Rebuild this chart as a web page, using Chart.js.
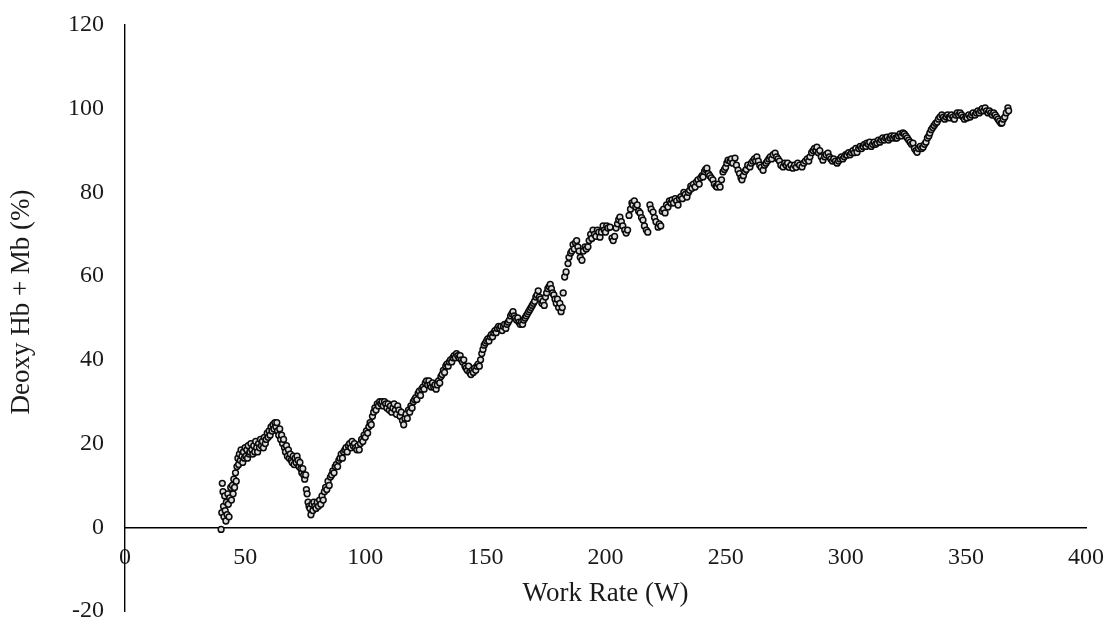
<!DOCTYPE html>
<html>
<head>
<meta charset="utf-8">
<script src="https://cdn.jsdelivr.net/npm/chart.js@4.4.1/dist/chart.umd.min.js"></script>
<style>
    html, body { margin: 0; padding: 0; background: #fff; }
    #wrap { width: 1114px; height: 631px; position: relative; }
</style>
</head>
<body>
<div id="wrap"><canvas id="chart"></canvas></div>
<script>
// 数据：功率 (W) 与 脱氧 Hb + Mb (%)
const workRate = [
    40.0,40.3,40.5,40.8,41.0,41.2,41.5,41.7,42.0,42.2,42.5,42.8,43.0,43.3,43.6,44.0,44.3,44.7,45.0,45.3,45.6,46.0,46.3,46.6,47.0,47.3,47.6,
    48.0,48.3,48.7,49.0,49.3,49.7,50.0,50.3,50.7,51.0,51.3,51.7,52.0,52.4,52.8,53.2,53.6,54.0,54.4,54.8,55.2,55.6,56.0,56.4,56.8,57.2,57.6,58.0,58.4,58.8,59.2,59.6,60.0,60.4,60.8,61.2,61.6,62.0,62.4,62.8,63.2,63.5,
    64.0,64.4,64.8,65.2,65.6,66.0,66.4,66.8,67.2,67.6,68.0,68.4,68.8,69.2,69.6,70.0,70.4,70.8,71.2,71.6,72.0,72.4,72.8,73.2,73.6,74.0,74.4,74.8,75.2,75.5,75.8,76.2,76.6,77.0,77.4,77.8,78.2,78.6,79.0,79.5,80.0,80.5,81.0,81.5,82.0,
    82.5,83.0,83.5,84.0,84.5,85.0,85.5,86.0,86.5,87.0,87.5,88.0,88.5,89.0,89.5,90.0,90.5,91.0,91.5,92.0,92.5,93.0,93.5,94.0,94.5,95.0,95.5,96.0,96.5,97.0,97.5,98.0,98.5,99.0,99.5,100.0,
    100.5,101.0,101.5,102.0,102.5,103.0,103.5,104.0,104.5,105.0,105.5,106.0,106.5,107.0,107.5,108.0,108.5,109.0,109.5,110.0,110.5,111.0,111.5,112.0,112.5,113.0,113.5,114.0,114.5,115.0,115.5,116.0,116.5,117.0,117.5,118.0,118.5,119.0,119.5,120.0,
    120.5,121.0,121.5,122.0,122.5,123.0,123.5,124.0,124.5,125.0,125.5,126.0,126.5,127.0,127.5,128.0,128.5,129.0,129.5,130.0,130.5,131.0,131.5,132.0,132.5,133.0,133.5,134.0,134.5,135.0,135.5,136.0,136.5,137.0,137.5,138.0,138.5,139.0,139.5,140.0,140.5,141.0,141.5,142.0,142.5,143.0,143.5,144.0,144.5,145.0,145.5,146.0,146.5,147.0,147.5,148.0,148.5,149.0,149.5,150.0,
    150.5,151.0,151.5,152.0,152.5,153.0,153.5,154.0,154.5,155.0,155.5,156.0,156.5,157.0,157.5,158.0,158.5,159.0,159.5,160.0,160.5,161.0,161.5,162.0,162.5,163.0,163.5,164.0,164.5,165.0,165.5,166.0,166.5,167.0,167.5,168.0,168.5,169.0,169.5,170.0,170.5,171.0,171.5,172.0,172.5,173.0,173.5,174.0,174.5,175.0,175.5,176.0,176.5,177.0,177.5,178.0,178.5,179.0,179.5,180.0,180.5,181.0,181.5,182.0,
    182.4,183.0,183.6,184.4,184.8,185.5,186.0,186.5,187.0,187.5,188.0,188.5,189.0,189.5,190.2,190.8,191.5,192.0,192.7,193.2,193.8,194.3,194.8,195.4,196.0,196.6,197.2,197.7,198.3,199.0,199.5,200.0,
    200.5,201.0,201.9,202.7,203.2,203.8,204.4,205.0,205.5,206.0,206.6,207.2,208.0,208.6,209.2,209.8,210.4,211.0,211.4,212.0,212.6,213.2,213.8,214.4,215.0,215.6,216.2,217.0,217.6,218.5,219.0,219.8,220.4,221.0,221.9,222.4,223.0,223.6,224.2,224.8,225.4,226.0,226.6,227.2,227.7,228.3,229.0,229.6,230.2,230.8,231.4,232.0,232.6,233.2,233.9,234.5,235.0,
    235.5,236.0,236.6,237.3,237.9,238.5,239.0,239.6,240.2,240.6,241.2,241.7,242.2,242.8,243.4,244.0,244.7,245.3,246.0,246.4,247.0,247.7,248.3,248.9,249.5,250.0,250.5,251.0,251.8,252.4,253.0,253.9,254.5,255.2,255.8,256.4,256.8,257.4,258.0,258.6,259.2,260.1,
    260.7,261.3,262.0,262.5,263.0,263.6,264.2,264.8,265.6,266.2,266.8,267.4,268.0,268.6,269.2,269.8,270.6,271.2,271.8,272.4,273.0,273.9,274.6,275.2,275.8,276.4,277.2,278.0,278.7,279.4,280.0,280.8,281.8,282.5,283.2,284.0,284.6,285.1,285.8,286.4,287.0,287.6,288.0,288.6,289.2,289.8,290.5,291.2,291.8,292.6,293.2,293.8,294.4,295.0,295.7,296.4,297.0,297.6,298.2,298.8,299.4,300.0,
    300.5,301.2,301.8,302.4,303.0,303.6,304.2,304.7,305.4,306.0,306.6,307.2,307.8,308.4,308.8,309.4,310.0,310.6,311.2,311.8,312.4,313.0,313.6,314.2,314.8,315.4,316.0,316.6,317.2,317.8,318.4,319.0,319.6,320.2,320.8,321.3,322.0,322.6,323.2,323.8,324.4,325.0,325.6,326.2,326.8,327.4,328.0,328.6,329.2,329.7,330.3,
    331.0,331.6,332.2,332.8,333.4,334.0,334.6,335.0,335.6,336.2,336.8,337.4,338.0,338.6,339.2,340.0,340.6,341.2,341.8,342.4,343.0,343.4,344.0,344.6,345.2,345.8,346.4,347.0,347.6,348.2,348.8,349.4,350.0,350.5,351.2,351.8,352.4,353.0,353.8,354.4,355.0,355.6,356.2,356.8,357.4,358.0,358.6,359.2,359.8,360.4,361.0,361.6,362.2,362.8,363.4,364.0,364.6,365.0,365.6,366.2,366.8,367.5,367.8
];
const deoxyHbMb = [
    -0.5,3.5,10.5,8.5,5.0,2.5,7.5,4.0,1.5,6.0,3.0,8.0,5.5,2.5,7.0,9.5,6.5,10.0,8.0,11.5,9.5,13.0,11.0,14.5,16.5,15.0,17.5,
    16.0,18.5,17.0,15.5,18.0,16.5,19.0,17.0,18.5,16.5,19.5,17.5,18.0,20.0,18.5,17.5,19.5,18.0,20.5,19.0,18.0,20.0,19.0,21.0,19.5,20.5,19.0,21.5,20.0,21.0,22.5,21.5,23.0,22.0,24.0,23.0,24.5,23.5,25.0,24.0,25.0,23.0,
    22.0,23.5,21.0,22.0,20.0,21.0,19.0,18.0,19.5,17.0,18.5,16.5,17.5,16.0,15.5,17.0,15.0,16.5,15.5,17.0,16.0,14.5,15.5,14.0,13.0,14.0,12.5,11.5,12.5,9.0,8.0,6.0,5.0,4.5,3.0,5.5,4.0,6.0,5.0,4.5,6.0,5.0,6.5,5.5,7.5,
    6.5,8.5,9.5,9.0,11.0,10.0,12.0,12.5,13.5,13.0,14.5,15.0,14.5,16.0,16.5,17.5,16.5,18.0,18.5,19.0,18.0,19.5,20.0,19.0,20.5,19.5,20.0,19.0,18.5,19.5,18.5,20.0,21.0,20.5,22.0,21.5,
    23.0,22.5,24.0,25.0,24.5,26.5,27.5,28.5,28.0,29.5,29.0,30.0,29.5,30.0,29.0,30.0,29.5,28.5,29.5,28.0,29.0,27.5,28.5,29.5,28.0,27.0,29.0,28.0,26.5,27.5,25.5,24.5,26.0,27.0,26.0,28.0,27.5,29.0,28.5,30.0,
    30.5,31.0,30.5,32.0,32.5,31.5,33.0,33.5,33.0,34.5,35.0,34.0,35.0,34.0,33.5,34.5,33.5,34.0,33.0,34.0,35.0,34.5,36.0,36.5,37.5,37.0,38.5,39.0,38.5,39.5,40.0,39.5,40.5,41.0,40.5,41.5,41.0,40.5,41.0,40.0,39.5,40.0,38.5,38.0,37.5,38.5,37.0,36.5,37.5,37.0,38.0,37.5,38.5,39.0,38.5,40.0,41.5,42.5,43.5,44.0,
    44.5,45.0,44.5,45.5,46.0,45.5,46.5,47.0,46.5,47.5,48.0,47.5,48.0,47.0,48.0,48.5,47.5,48.5,49.0,49.5,50.5,51.0,51.5,50.5,50.0,49.5,50.0,49.0,48.5,49.0,48.5,49.5,50.0,50.5,51.0,51.5,52.0,52.5,53.0,53.5,54.0,55.0,55.5,56.5,55.0,54.5,53.5,54.0,53.0,55.0,56.0,57.0,57.5,58.0,57.0,56.0,55.5,54.5,53.5,54.5,52.5,53.5,51.5,52.5,
    56.0,59.8,61.0,63.0,64.5,65.5,66.0,67.5,66.5,68.0,68.5,67.0,66.0,64.5,63.8,66.0,67.0,66.5,67.0,68.5,70.0,69.0,71.0,70.0,69.5,71.0,70.5,69.3,70.5,72.0,71.0,70.5,
    72.0,71.5,71.7,69.1,68.5,69.5,71.5,72.5,73.5,74.1,73.0,72.0,71.0,70.3,71.0,74.5,76.0,77.5,77.0,78.0,76.5,77.0,75.5,75.1,74.0,73.4,72.0,71.0,70.5,77.0,76.0,75.3,74.0,73.0,71.7,72.5,72.0,75.5,76.0,75.1,77.0,76.5,78.0,77.5,78.2,77.5,78.5,78.0,77.0,78.5,79.0,78.5,80.0,79.5,78.9,80.0,80.5,
    81.5,81.0,82.0,81.3,82.5,83.0,82.0,83.5,84.0,83.7,85.0,85.5,85.8,84.5,84.0,83.5,83.0,82.0,81.5,81.3,82.0,81.3,83.0,84.9,85.5,86.0,87.0,87.7,87.5,88.0,87.0,88.2,86.5,85.3,84.5,83.5,83.0,84.0,85.0,85.5,86.5,86.1,
    87.0,87.5,88.0,87.5,88.5,87.5,86.5,86.0,85.3,86.5,87.0,87.5,88.0,88.5,88.0,89.0,89.4,88.5,88.0,87.5,86.5,86.1,87.0,86.5,87.0,86.0,86.5,85.8,86.5,86.0,87.0,86.5,86.1,87.0,87.5,88.0,87.5,88.5,89.5,90.0,90.5,90.0,90.8,89.5,90.0,88.5,87.7,88.5,89.0,89.4,88.5,88.0,87.5,88.0,87.5,87.0,87.5,88.0,88.5,88.0,88.5,89.0,
    88.9,89.5,89.0,89.5,90.0,89.5,90.5,89.6,90.5,91.0,90.5,91.0,91.5,91.0,91.8,91.5,92.0,91.0,91.5,92.0,91.5,91.8,92.5,92.0,92.5,93.0,92.5,93.0,93.2,92.5,93.0,93.5,93.0,93.5,93.0,93.0,93.5,94.0,93.5,94.2,94.0,93.5,93.0,92.5,92.0,91.5,91.8,90.5,90.0,89.6,90.5,
    91.0,90.5,90.8,91.5,92.0,93.0,93.5,94.2,95.0,95.5,96.0,96.5,96.8,97.5,98.0,98.5,98.0,97.5,98.0,98.5,98.0,97.8,98.5,98.0,97.5,98.5,99.0,98.5,99.0,98.5,98.0,97.5,98.0,97.8,98.5,98.0,98.5,99.0,98.5,99.0,99.5,99.0,99.5,100.0,99.5,100.2,99.5,99.0,99.5,99.0,98.5,99.0,98.5,98.0,97.5,97.0,96.5,96.6,97.5,98.0,99.0,100.2,99.5
];
const xTicks = [0, 50, 100, 150, 200, 250, 300, 350, 400];
const yTicks = [-20, 0, 20, 40, 60, 80, 100, 120];

const fontFamily = "'Liberation Serif', 'Times New Roman', serif";
const tickFont = { family: fontFamily, size: 24 };
const titleFont = { family: fontFamily, size: 27 };
const inkColor = '#1a1a1a';
const yTitleText = 'Deoxy Hb + Mb (%)';

const points = workRate.map((w, i) => ({ x: w, y: deoxyHbMb[i] }));

// 刻度标签的溢出不参与布局，绘图区由 layout.padding 决定
function dropScalePadding(scale) {
    scale.paddingTop = 0;
    scale.paddingBottom = 0;
    scale.paddingLeft = 0;
    scale.paddingRight = 0;
}

// 纵轴标题：原图中略高于绘图区中线
const yTitlePlugin = {
    id: 'yTitle',
    afterDraw(chart) {
        const { ctx, chartArea } = chart;
        ctx.save();
        ctx.translate(22, (chartArea.top + chartArea.bottom) / 2 - 16);
        ctx.rotate(-Math.PI / 2);
        ctx.font = `${titleFont.size}px ${fontFamily}`;
        ctx.fillStyle = inkColor;
        ctx.textAlign = 'center';
        ctx.textBaseline = 'middle';
        ctx.fillText(yTitleText, 0, 0);
        ctx.restore();
    }
};

const ctx = document.getElementById('chart').getContext('2d');
new Chart(ctx, {
    type: 'scatter',
    data: {
        datasets: [{
            data: points,
            pointStyle: 'circle',
            pointRadius: 2.9,
            pointBorderWidth: 1.5,
            borderColor: '#0a0a0a',
            backgroundColor: '#dcdcdc',
            showLine: false
        }]
    },
    options: {
        responsive: true,
        maintainAspectRatio: false,
        animation: false,
        layout: {
            autoPadding: false,
            padding: { top: 25, right: 28, bottom: 20, left: 0 }
        },
        plugins: {
            legend: { display: false },
            tooltip: { enabled: false }
        },
        scales: {
            x: {
                type: 'linear',
                min: 0,
                max: 400,
                position: { y: 0 },
                afterBuildTicks: scale => { scale.ticks = xTicks.map(v => ({ value: v })); },
                afterFit: dropScalePadding,
                grid: { display: false, drawTicks: false },
                border: { display: true, color: '#000', width: 1.4 },
                ticks: { color: inkColor, font: tickFont, padding: 16, maxRotation: 0 },
                title: {
                    display: true,
                    text: 'Work Rate (W)',
                    color: inkColor,
                    font: titleFont,
                    padding: { top: -10, bottom: 0 }
                }
            },
            y: {
                type: 'linear',
                min: -20,
                max: 120,
                position: 'left',
                afterBuildTicks: scale => { scale.ticks = yTicks.map(v => ({ value: v })); },
                afterFit: scale => { dropScalePadding(scale); scale.width = 125; },
                grid: { display: false, drawTicks: false },
                border: { display: true, color: '#000', width: 1.4 },
                ticks: { color: inkColor, font: tickFont, padding: 21 },
                title: { display: false }
            }
        }
    },
    plugins: [yTitlePlugin]
});
</script>
</body>
</html>
